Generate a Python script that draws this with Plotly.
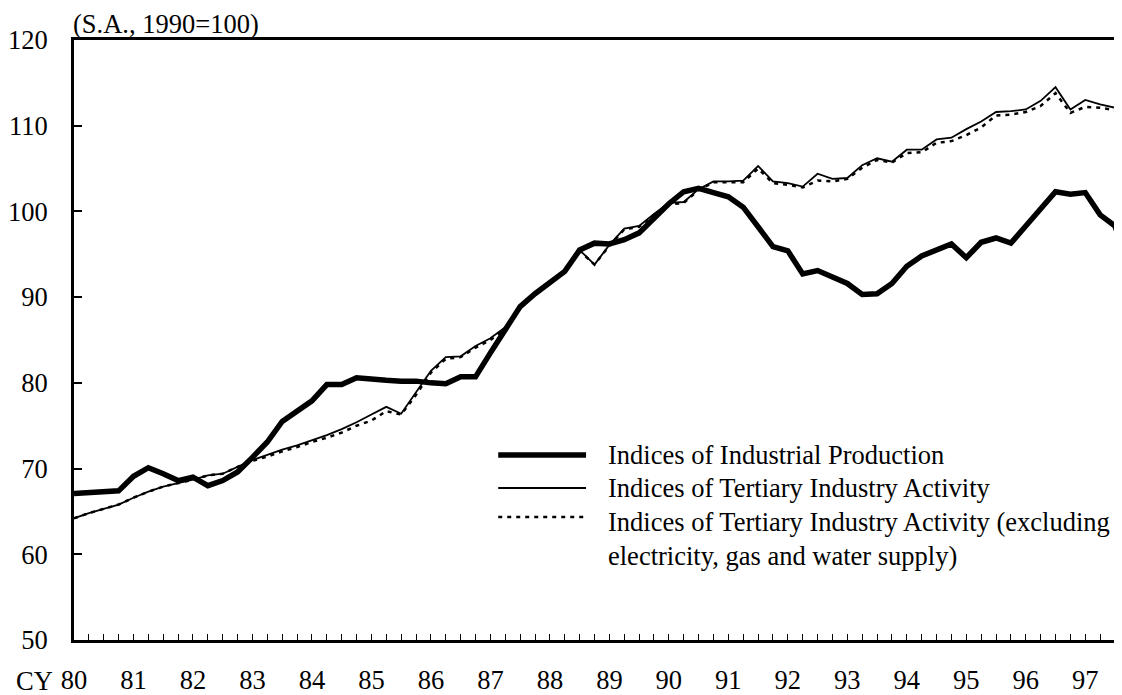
import plotly.graph_objects as go

# ---------------- data (quarterly, 1980Q1 ...) ----------------
quarters = [f"{y}Q{q}" for y in range(1980, 1998) for q in range(1, 5)][:72]

industrial_production = [
    67.1, 67.2, 67.4, 67.4, 69.1, 70.1, 69.4, 68.6, 69.0, 68.0, 68.6, 69.6,
    71.3, 73.1, 75.5, 76.8, 77.9, 79.8, 79.8, 80.6, 80.4, 80.3, 80.2, 80.2,
    80.0, 79.9, 80.7, 80.7, 83.5, 86.2, 88.9, 90.4, 91.7, 93.0, 95.5, 96.3,
    96.2, 96.7, 97.5, 99.3, 100.9, 102.3, 102.7, 102.2, 101.7, 100.5, 98.2, 95.9,
    95.4, 92.7, 93.1, 92.4, 91.6, 90.3, 90.4, 91.6, 93.6, 94.8, 95.5, 96.2,
    94.6, 96.4, 96.9, 96.3, 98.3, 100.3, 102.3, 102.0, 102.2, 99.6, 98.3, 93.3,
]

tertiary_activity = [
    64.2, 64.8, 65.3, 65.8, 66.6, 67.3, 67.9, 68.3, 68.7, 69.2, 69.4, 70.2,
    71.0, 71.6, 72.2, 72.7, 73.3, 73.9, 74.6, 75.4, 76.3, 77.2, 76.4, 78.9,
    81.4, 83.0, 83.1, 84.3, 85.2, 86.5, 88.8, 90.4, 91.9, 93.1, 95.5, 93.8,
    96.1, 98.0, 98.3, 99.7, 101.0, 101.1, 102.6, 103.5, 103.5, 103.6, 105.3, 103.5,
    103.3, 102.9, 104.4, 103.8, 103.9, 105.4, 106.2, 105.8, 107.2, 107.2, 108.4, 108.6,
    109.6, 110.5, 111.6, 111.7, 111.9, 112.9, 114.5, 111.9, 113.0, 112.5, 112.1, 111.6,
]

tertiary_ex_utilities = [
    64.2, 64.8, 65.3, 65.8, 66.6, 67.3, 67.9, 68.3, 68.7, 69.2, 69.4, 70.2,
    70.9, 71.4, 72.0, 72.5, 73.1, 73.6, 74.2, 75.0, 75.6, 76.7, 76.3, 78.6,
    81.2, 82.8, 83.0, 84.1, 85.0, 86.4, 88.7, 90.3, 91.8, 93.0, 95.4, 93.8,
    96.0, 97.9, 98.2, 99.6, 100.8, 101.0, 102.5, 103.4, 103.4, 103.4, 105.0, 103.3,
    103.1, 102.8, 103.6, 103.5, 103.8, 105.1, 106.0, 105.7, 106.8, 106.9, 108.0, 108.2,
    108.9, 109.8, 111.2, 111.3, 111.6, 112.3, 113.8, 111.5, 112.2, 112.1, 111.8, 111.1,
]

year_ticks = list(range(1980, 1998))
year_labels = [f"{y % 100:02d}" for y in year_ticks]

series_names = [
    "Indices of Industrial Production",
    "Indices of Tertiary Industry Activity",
    "Indices of Tertiary Industry Activity (excluding<br>electricity, gas and water supply)",
]

# numeric position of each quarter on the time axis
xpos = [int(s[:4]) + (int(s[-1]) - 1) / 4 for s in quarters]

FONT = "Liberation Serif, Times New Roman, serif"
FS = 26.5

fig = go.Figure()
fig.add_trace(go.Scatter(x=xpos, y=tertiary_ex_utilities, mode="lines", name=series_names[2],
                         line=dict(color="black", width=2.5, dash="4px,5px"), showlegend=False))
fig.add_trace(go.Scatter(x=xpos, y=tertiary_activity, mode="lines", name=series_names[1],
                         line=dict(color="black", width=1.8), showlegend=False))
fig.add_trace(go.Scatter(x=xpos, y=industrial_production, mode="lines", name=series_names[0],
                         line=dict(color="black", width=5.5), showlegend=False))

# ---------------- legend drawn by hand (long samples) ----------------
leg_x0, leg_x1, txt_x = 0.4048, 0.4886, 0.5076
rows = [  # (y of sample in paper coords, dash, width, text y)
    (0.3083, "solid", 5.5, 0.3083),
    (0.2533, "solid", 1.8, 0.2533),
    (0.2050, "4px,5px", 2.5, 0.1683),
]
for (ys, dash, w, yt), name in zip(rows, series_names):
    fig.add_shape(type="line", xref="paper", yref="paper", x0=leg_x0, x1=leg_x1, y0=ys, y1=ys,
                  line=dict(color="black", width=w, dash=dash))
    fig.add_annotation(xref="paper", yref="paper", x=txt_x, y=yt, text=name, showarrow=False,
                       xanchor="left", yanchor="middle", align="left",
                       font=dict(family=FONT, size=FS, color="black"))

fig.add_annotation(xref="paper", yref="paper", x=0, y=1.0, yshift=16, xshift=-3,
                   text="(S.A., 1990=100)", showarrow=False, xanchor="left", yanchor="middle",
                   font=dict(family=FONT, size=FS, color="black"))
fig.add_annotation(xref="paper", yref="paper", x=-0.038, y=-0.068, text="CY",
                   showarrow=False, xanchor="center", yanchor="middle",
                   font=dict(family=FONT, size=FS, color="black"))

fig.update_layout(
    width=1114, height=687,
    margin=dict(l=64, r=0, t=32, b=55),
    paper_bgcolor="white", plot_bgcolor="white",
    font=dict(family=FONT, size=FS, color="black"),
    xaxis=dict(range=[1980, 1980 + 70.47 / 4], tickmode="array", tickvals=year_ticks,
               ticktext=year_labels, ticks="inside", ticklen=6, tickwidth=1, tickcolor="black",
               minor=dict(tick0=1980, dtick=0.25, ticks="inside", ticklen=6, tickwidth=1,
                          tickcolor="black"),
               showline=True, linecolor="black", linewidth=3, mirror=True,
               showgrid=False, zeroline=False, ticklabelstandoff=14,
               tickfont=dict(family=FONT, size=FS, color="black")),
    yaxis=dict(range=[50, 120], dtick=10, ticks="inside", ticklen=8, tickwidth=1.5,
               tickcolor="black", showline=True, linecolor="black", linewidth=3,
               showgrid=False, zeroline=False, ticklabelstandoff=18,
               tickfont=dict(family=FONT, size=FS, color="black")),
)

fig.write_html("out.html")
